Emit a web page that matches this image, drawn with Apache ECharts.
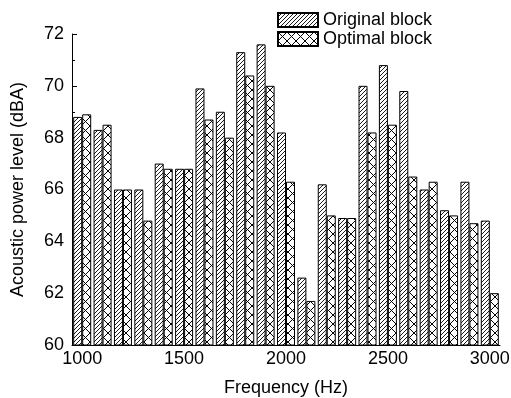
<!DOCTYPE html>
<html>
<head>
<meta charset="utf-8">
<script src="https://cdn.jsdelivr.net/npm/echarts@6/dist/echarts.min.js"></script>
<style>
  html, body { margin: 0; padding: 0; background: #fff; }
  #chart { width: 511px; height: 398px; }
</style>
</head>
<body>
<div id="chart"></div>
<script>
const frequencies = ['1000', '1100', '1200', '1300', '1400', '1500', '1600', '1700', '1800', '1900', '2000',
    '2100', '2200', '2300', '2400', '2500', '2600', '2700', '2800', '2900', '3000'];
const originalBlock = [68.8, 68.3, 66.0, 66.0, 67.0, 66.8, 69.9, 69.0, 71.3, 71.6, 68.2,
    62.6, 66.2, 64.9, 70.0, 70.8, 69.8, 66.0, 65.2, 66.3, 64.8];
const optimalBlock = [68.9, 68.5, 66.0, 64.8, 66.8, 66.8, 68.7, 68.0, 70.4, 70.0, 66.3,
    61.7, 65.0, 64.9, 68.2, 68.5, 66.5, 66.3, 65.0, 64.7, 62.0];

// hatch patterns drawn on small canvases
function hatchPattern() {
    const c = document.createElement('canvas');
    c.width = 4; c.height = 4;
    const ctx = c.getContext('2d');
    ctx.fillStyle = '#fff';
    ctx.fillRect(0, 0, 4, 4);
    ctx.strokeStyle = '#000';
    ctx.lineWidth = 0.9;
    ctx.beginPath();
    ctx.moveTo(-1, 5); ctx.lineTo(5, -1);
    ctx.moveTo(-1, 1); ctx.lineTo(1, -1);
    ctx.moveTo(3, 5); ctx.lineTo(5, 3);
    ctx.stroke();
    return c;
}

function crossPattern() {
    const c = document.createElement('canvas');
    c.width = 9; c.height = 9;
    const ctx = c.getContext('2d');
    ctx.fillStyle = '#fff';
    ctx.fillRect(0, 0, 9, 9);
    ctx.strokeStyle = '#000';
    ctx.lineWidth = 1;
    ctx.beginPath();
    ctx.moveTo(0, 0); ctx.lineTo(9, 9);
    ctx.moveTo(9, 0); ctx.lineTo(0, 9);
    ctx.stroke();
    return c;
}

const fontFamily = 'Liberation Sans, Arial, sans-serif';

const chart = echarts.init(document.getElementById('chart'));

const option = {
    animation: false,
    backgroundColor: '#fff',
    grid: { left: 72, right: 11, top: 34, bottom: 53, containLabel: false, outerBoundsMode: 'none' },
    legend: {
        orient: 'vertical',
        left: 272,
        top: 6,
        icon: 'rect',
        itemWidth: 40,
        itemHeight: 14,
        itemGap: 1,
        textStyle: { fontFamily: fontFamily, fontSize: 18, color: '#000' },
        data: ['Original block', 'Optimal block']
    },
    xAxis: {
        type: 'category',
        data: frequencies,
        name: 'Frequency (Hz)',
        nameLocation: 'middle',
        nameGap: 34,
        nameTextStyle: { fontFamily: fontFamily, fontSize: 18, color: '#000' },
        axisLine: { lineStyle: { color: '#000', width: 1 } },
        axisTick: { show: false },
        axisLabel: { interval: 4, fontFamily: fontFamily, fontSize: 18, color: '#000', margin: 5 },
        splitLine: { show: false }
    },
    yAxis: {
        type: 'value',
        min: 60,
        max: 72,
        interval: 2,
        name: 'Acoustic power level (dBA)',
        nameLocation: 'middle',
        nameGap: 45,
        nameTextStyle: { fontFamily: fontFamily, fontSize: 18, color: '#000' },
        axisLine: { show: true, lineStyle: { color: '#000', width: 1 } },
        axisTick: { show: true, inside: true, length: 5, lineStyle: { color: '#000' } },
        minorTick: { show: true, splitNumber: 2, length: 3, lineStyle: { color: '#000' } },
        axisLabel: { fontFamily: fontFamily, fontSize: 18, color: '#000', margin: 8 },
        splitLine: { show: false }
    },
    series: [
        {
            name: 'Original block',
            type: 'bar',
            data: originalBlock,
            barWidth: 9,
            barGap: '0%',
            itemStyle: {
                color: { image: hatchPattern(), repeat: 'repeat' },
                borderColor: '#000',
                borderWidth: 1
            }
        },
        {
            name: 'Optimal block',
            type: 'bar',
            data: optimalBlock,
            barWidth: 9,
            barGap: '0%',
            itemStyle: {
                color: { image: crossPattern(), repeat: 'repeat' },
                borderColor: '#000',
                borderWidth: 1
            }
        }
    ]
};

chart.setOption(option);
</script>
</body>
</html>
